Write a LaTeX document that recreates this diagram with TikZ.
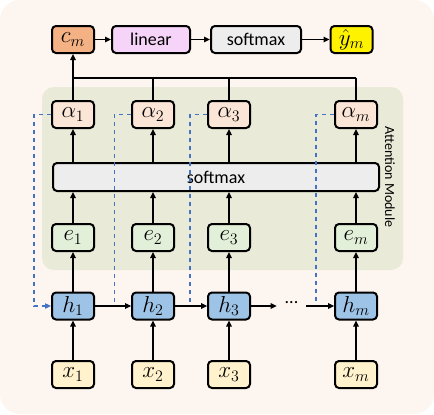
\documentclass[tikz,border=0pt]{standalone}
\usepackage{fontspec}
\setmainfont{Carlito}
\usepackage{tikz}
\usetikzlibrary{arrows,arrows.meta,positioning}
\definecolor{bgpeach}{HTML}{FDF5F0}
\definecolor{attgreen}{HTML}{E9EAD7}
\definecolor{cmorange}{HTML}{F4B183}
\definecolor{linpink}{HTML}{F6D3F8}
\definecolor{smgrey}{HTML}{EDEDED}
\definecolor{alphapeach}{HTML}{FBE5D6}
\definecolor{egreen}{HTML}{E2F0D9}
\definecolor{hblue}{HTML}{9DC3E6}
\definecolor{xyellow}{HTML}{FFF2CC}
\definecolor{loopblue}{HTML}{4472C4}

\begin{document}
\begin{tikzpicture}[>={Triangle[length=4.5pt,width=4pt]},x=0.75pt,y=-0.75pt,
  box/.style={draw,line width=1.5pt,rounded corners=3pt,inner sep=0pt,
    minimum width=31.5pt,minimum height=20.25pt,font=\fontsize{13.5}{16}\selectfont},
  mbox/.style={box,font=\fontsize{16.5}{19}\selectfont},
  conn/.style={line width=1.2pt},
  loopline/.style={dashed,loopblue,line width=#1},
  loopline/.default=0.9pt]
\useasboundingbox (0,0) rectangle (434,414);
\fill[bgpeach,rounded corners=15pt] (0,0) rectangle (434,414);
\fill[attgreen,rounded corners=9pt] (42,87) rectangle (403,270);
\node[rotate=-90,font=\fontsize{10.5}{12}\selectfont] (attlbl) at (390,177) {Attention Module};
\node[mbox,fill=cmorange] (c) at (73,39.5) {$c_m$};
\node[box,fill=linpink,minimum width=58.5pt] (lin) at (151,39.5) {linear};
\node[box,fill=smgrey,minimum width=67.5pt] (sm) at (256,39.5) {softmax};
\node[mbox,fill=yellow] (y) at (351.5,39.5) {$\hat{y}_m$};
\node[box,fill=smgrey,minimum width=244.5pt,minimum height=21pt] (smx) at (216,177) {softmax};
\coordinate (bus) at (0,78);
\foreach \i/\cx/\dx/\lw in {1/73/34/0.9pt,2/153/114/0.6pt,3/229/190/1.2pt,m/356/316/0.9pt}{
  \node[mbox,fill=alphapeach] (a\i) at (\cx,114.5) {$\alpha_\i$};
  \node[mbox,fill=egreen] (e\i) at (\cx,237.5) {$e_\i$};
  \node[mbox,fill=hblue] (h\i) at (\cx,306) {$h_\i$};
  \node[mbox,fill=xyellow] (x\i) at (\cx,374.5) {$x_\i$};
  \draw[conn,->] (x\i) -- (h\i);
  \draw[conn,->] (h\i) -- (e\i);
  \draw[conn,->] (e\i) -- (e\i |- smx.south);
  \draw[conn,->] (a\i |- smx.north) -- (a\i);
  \draw[conn] (a\i) -- (a\i |- bus);
  \draw[loopline=\lw,->] (a\i.west) -- (\dx,114.5) -- (\dx,306) -- (h\i.west);
}
\draw[conn,->] (a1) -- (c);
\draw[conn] (a1 |- bus) -- (am |- bus);
\draw[conn,->] (c) -- (lin);
\draw[conn,->] (lin) -- (sm);
\draw[conn,->] (sm) -- (y);
\node[inner sep=0pt,minimum width=21.75pt,font=\fontsize{13.5}{16}\selectfont] (dots) at (291.5,303) {...};
\draw[conn,->] (h1) -- (h2);
\draw[conn,->] (h2) -- (h3);
\draw[conn,->] (h3) -- (dots.west |- h3);
\draw[conn,->] (dots.east |- hm) -- (hm);
\end{tikzpicture}
\end{document}
